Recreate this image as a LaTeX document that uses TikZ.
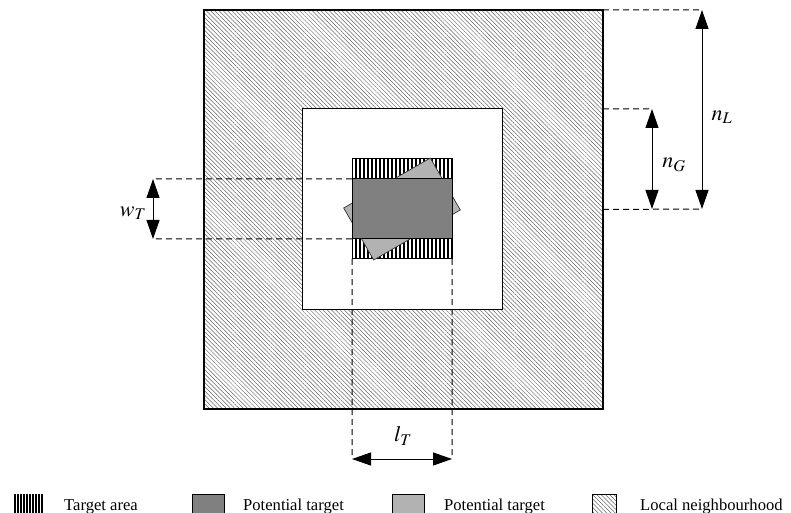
\documentclass[tikz,border=0pt]{standalone}
\usepackage{mathptmx}
\usepackage{fontspec}
\setmainfont{Liberation Serif}
\usetikzlibrary{patterns.meta,arrows.meta}
\definecolor{darkfill}{gray}{0.5}
\definecolor{lightfill}{gray}{0.7}
\begin{document}
\begin{tikzpicture}[x=1bp,y=-1bp,
  box/.style={inner sep=0pt, outer sep=0pt},
  neigh/.style={pattern={Lines[angle=-45,distance=3bp,line width=0.5bp]}, pattern color=black!60},
  tarea/.style={pattern={Lines[angle=90,distance=4bp,line width=2bp]}, pattern color=black},
  guide/.style={dash pattern=on 6bp off 4bp, line width=1bp},
  dim/.style={{Triangle[length=19bp,width=13bp]}-{Triangle[length=19bp,width=13bp]}, line width=1bp},
  lbl/.style={font=\fontsize{22bp}{26bp}\selectfont},
  leg/.style={font=\fontsize{16.6bp}{20bp}\selectfont, anchor=base west, inner sep=0pt}
]
\useasboundingbox (0,0) rectangle (791,513);
% main squares
\node[box, draw, line width=1.2bp, neigh, minimum size=399bp] (outer) at (403.5,209.5) {};
\node[box, draw, line width=1bp, fill=white, minimum size=200bp] (inner) at (402,209) {};
\node[box, draw, line width=1bp, tarea, minimum size=100bp] (target) at (402,259) [anchor=south] {};
\node[box, draw=black!80, line width=0.7bp, fill=lightfill, minimum width=100bp, minimum height=60bp, rotate=30] (light) at (402,209) {};
\node[box, draw, line width=1bp, fill=darkfill, minimum width=100bp, minimum height=60bp] (dark) at (402,209) {};
% w_T
\coordinate (wa) at (153,179);
\coordinate (wb) at (153,239);
\draw[guide] (dark.north west) -- (wa);
\draw[guide] (dark.south west) -- (wb);
\draw[dim] (wa) -- (wb);
\node[lbl] (wT) at (133,213) {$w_T$};
% n_L
\coordinate (nla) at (702,10);
\coordinate (nlb) at (702,209);
\draw[guide] (outer.north east) -- (nla);
\draw[guide] (outer.east) -- (nlb);
\draw[dim] (nla) -- (nlb);
\node[lbl] (nL) at (722,117) {$n_L$};
% n_G
\coordinate (nga) at (652,109);
\coordinate (ngb) at (652,209);
\draw[guide] (outer.east |- inner.north) -- (nga);
\draw[dim] (nga) -- (ngb);
\node[lbl] (nG) at (674,165) {$n_G$};
% l_T
\coordinate (la) at (352,459);
\coordinate (lb) at (452,459);
\draw[guide] (target.south west) -- (la);
\draw[guide] (target.south east) -- (lb);
\draw[dim] (la) -- (lb);
\node[lbl] (lT) at (403,436) {$l_T$};
% legend
\path[pattern={Lines[angle=90,distance=3bp,line width=1.5bp]}] (13,494) rectangle (43,514);
\draw[line width=1bp, fill=darkfill] (192,494) rectangle (224,514);
\draw[line width=1bp, fill=lightfill] (392,494) rectangle (424,514);
\draw[line width=0.6bp, neigh] (592,494) rectangle (616,514);
\node[leg] (l1) at (64,510) {Target area};
\node[leg] (l2) at (243,510) {Potential target};
\node[leg] (l3) at (444,510) {Potential target};
\node[leg] (l4) at (640,510) {Local neighbourhood};
\end{tikzpicture}
\end{document}
